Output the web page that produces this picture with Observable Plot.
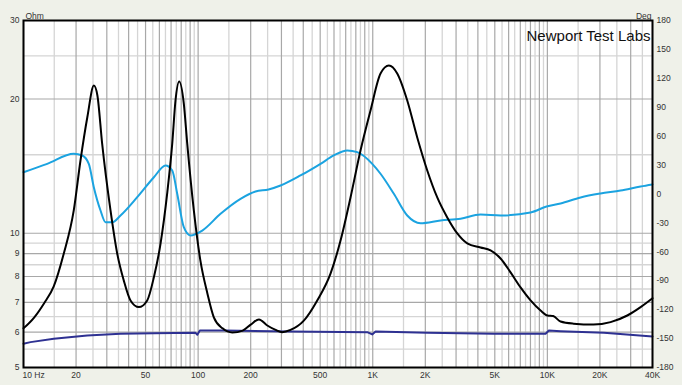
<!DOCTYPE html>
<html><head><meta charset="utf-8">
<script src="https://cdn.jsdelivr.net/npm/d3@7"></script>
<script src="https://cdn.jsdelivr.net/npm/@observablehq/plot@0.6"></script>
<style>
body{margin:0;background:#eff1e9;}
#chart{position:relative;width:682px;height:385px;background:#eff1e9;}
#chart svg{position:absolute;left:0;top:0;}
</style></head><body><div id="chart"></div>
<script>
// Impedance magnitude (Hz, Ohm)
const impedance = [[10,6.12],[11.5,6.47],[13.1,6.96],[14.9,7.6],[17.0,9.0],[19.4,11.25],[21.2,14.56],[23.2,18.2],[25.3,21.45],[26.5,20.37],[28.2,15.90],[31.5,11.25],[34.4,9.01],[37.5,7.84],[41.0,7.07],[45.8,6.83],[51.1,7.07],[55.8,7.97],[60.9,9.47],[66.5,12.28],[71.1,15.90],[74.2,19.85],[77.9,21.9],[82.8,19.54],[86.6,15.90],[94.5,11.25],[103,8.69],[113,7.33],[123,6.48],[138,6.12],[157,5.99],[180,6.05],[200,6.24],[223,6.41],[249,6.21],[278,6.07],[303,6.0],[338,6.07],[403,6.37],[481,7.07],[573,8.12],[654,9.63],[746,12.03],[851,15.33],[971,18.85],[1108,22.82],[1237,23.78],[1381,22.82],[1576,19.85],[1798,16.40],[2052,13.83],[2341,12.03],[2671,10.85],[3048,9.99],[3477,9.49],[4144,9.29],[4727,9.15],[5395,8.78],[6155,8.17],[7023,7.56],[8013,7.07],[9145,6.71],[10026,6.54],[10800,6.52],[11900,6.34],[14125,6.27],[18390,6.24],[23010,6.32],[28680,6.54],[34190,6.83],[40000,7.15]];
// Phase (Hz, degrees)
const phase = [[10,22.6],[13.67,31.3],[19.42,41.7],[21.69,40.0],[23.66,31.3],[25.27,7.1],[27.61,-17.1],[29.49,-29.3],[32.22,-29.3],[35.94,-22.3],[44.79,-3.3],[55.8,17.4],[65.06,29.6],[71.1,24.4],[75.9,0.2],[82.8,-34.4],[90.4,-43.0],[105.6,-37.9],[134.4,-20.5],[174.9,-5.0],[213.2,2.6],[253.1,4.7],[296.5,8.8],[385.8,19.2],[502.3,31.3],[598.7,40.0],[714.5,45.1],[815,43.4],[993.5,31.3],[1108,21.0],[1321,0.2],[1576,-22.3],[1878,-30.3],[2445,-27.5],[3184,-25.7],[4144,-21.3],[5395,-22.3],[8013,-19.2],[9895,-13.0],[11900,-9.8],[15500,-3.6],[20170,0.5],[26260,3.6],[34190,7.8],[40000,9.9]];
// Lower trace (Hz, Ohm)
const lowerTrace = [[10,5.65],[10.97,5.70],[14.91,5.80],[23.17,5.90],[35.94,5.95],[55.8,5.97],[96.6,5.98],[99.0,5.92],[102.3,6.05],[140.4,6.05],[338,6.02],[930,6.00],[993,5.93],[1038,6.02],[2052,5.98],[4937,5.95],[9766,5.95],[10200,6.05],[11900,6.03],[21070,5.98],[40000,5.87]];

const xTicks = [10,20,50,100,200,500,1000,2000,5000,10000,20000,40000];
const xTickLabels = ["10 Hz","20","50","100","200","500","1K","2K","5K","10K","20K","40K"];
const ohmTicks = [5,6,7,8,9,10,20,30];
const degTicks = [180,150,120,90,60,30,0,-30,-60,-90,-120,-150,-180];
const decades = [10,100,1000,10000];
const majorMult = [1,2,3,4,5,6,7,8,9];
const minorMult = [1.5,2.5,3.5,4.5,5.5,6.5,7.5,8.5,9.5];
const ohmMajorGrid = [5,6,7,8,9,10,20,30];
const ohmMinorGrid = [5.5,6.5,7.5,8.5,9.5,15,25];

const majorF = decades.flatMap(d => majorMult.map(m => d*m)).filter(f => f <= 40000);
const minorF = decades.flatMap(d => minorMult.map(m => d*m)).filter(f => f <= 40000);

const W = 682, H = 385;
const common = {
  width: W, height: H,
  marginLeft: 23, marginRight: 30, marginTop: 20, marginBottom: 18,
  x: {type: "log", domain: [10, 40000], axis: null},
  style: {background: "transparent", fontFamily: "'Liberation Sans', Arial, sans-serif", overflow: "visible"}
};
const font = 8.5, labelColor = "#333";

const baseLayer = Plot.plot({
  ...common,
  y: {type: "log", domain: [5, 30], axis: null},
  marks: [
    Plot.frame({fill: "white"}),
    Plot.ruleX(minorF, {stroke: "#d5d5d5", strokeWidth: 1.3}),
    Plot.ruleY(ohmMinorGrid, {stroke: "#d5d5d5", strokeWidth: 1.3}),
    Plot.ruleX(majorF, {stroke: "#a8a8a8", strokeWidth: 1.2}),
    Plot.ruleY(ohmMajorGrid, {stroke: "#a8a8a8", strokeWidth: 1.2}),
    Plot.line(lowerTrace, {x: d => d[0], y: d => d[1], stroke: "#2e3192", strokeWidth: 2}),
    Plot.text(ohmTicks, {y: d => d, frameAnchor: "left", textAnchor: "end", dx: -4, text: d => String(d), fontSize: font, fill: labelColor}),
    Plot.text(xTicks.slice(1), {x: d => d, frameAnchor: "bottom", dy: 10, text: (d, i) => xTickLabels[i + 1], fontSize: font, fill: labelColor}),
    Plot.text([xTicks[0]], {x: d => d, frameAnchor: "bottom", dy: 10, dx: -1, textAnchor: "start", text: () => xTickLabels[0], fontSize: font, fill: labelColor}),
    Plot.text(["Ohm"], {frameAnchor: "top-left", dy: -8, dx: 2, textAnchor: "start", fontSize: font, fill: labelColor})
  ]
});

const phaseLayer = Plot.plot({
  ...common,
  y: {domain: [-180, 180], axis: null},
  marks: [
    Plot.line(phase, {x: d => d[0], y: d => d[1], stroke: "#1ba3e0", strokeWidth: 2, curve: "monotone-x"}),
    Plot.text(degTicks, {y: d => d, frameAnchor: "right", textAnchor: "start", dx: 4, text: d => String(d), fontSize: font, fill: labelColor}),
    Plot.text(["Deg"], {frameAnchor: "top-right", dy: -8, dx: -1, textAnchor: "end", fontSize: font, fill: labelColor})
  ]
});

const impLayer = Plot.plot({
  ...common,
  y: {type: "log", domain: [5, 30], axis: null},
  marks: [
    Plot.line(impedance, {x: d => d[0], y: d => d[1], stroke: "#000", strokeWidth: 2, curve: "monotone-x"}),
    Plot.frame({stroke: "#000", strokeWidth: 2}),
    Plot.text(["Newport Test Labs"], {frameAnchor: "top-right", dx: -2, dy: 10, textAnchor: "end", fontSize: 15, fill: "#111"})
  ]
});

const el = document.getElementById("chart");
el.append(baseLayer, phaseLayer, impLayer);
</script>
</body></html>
